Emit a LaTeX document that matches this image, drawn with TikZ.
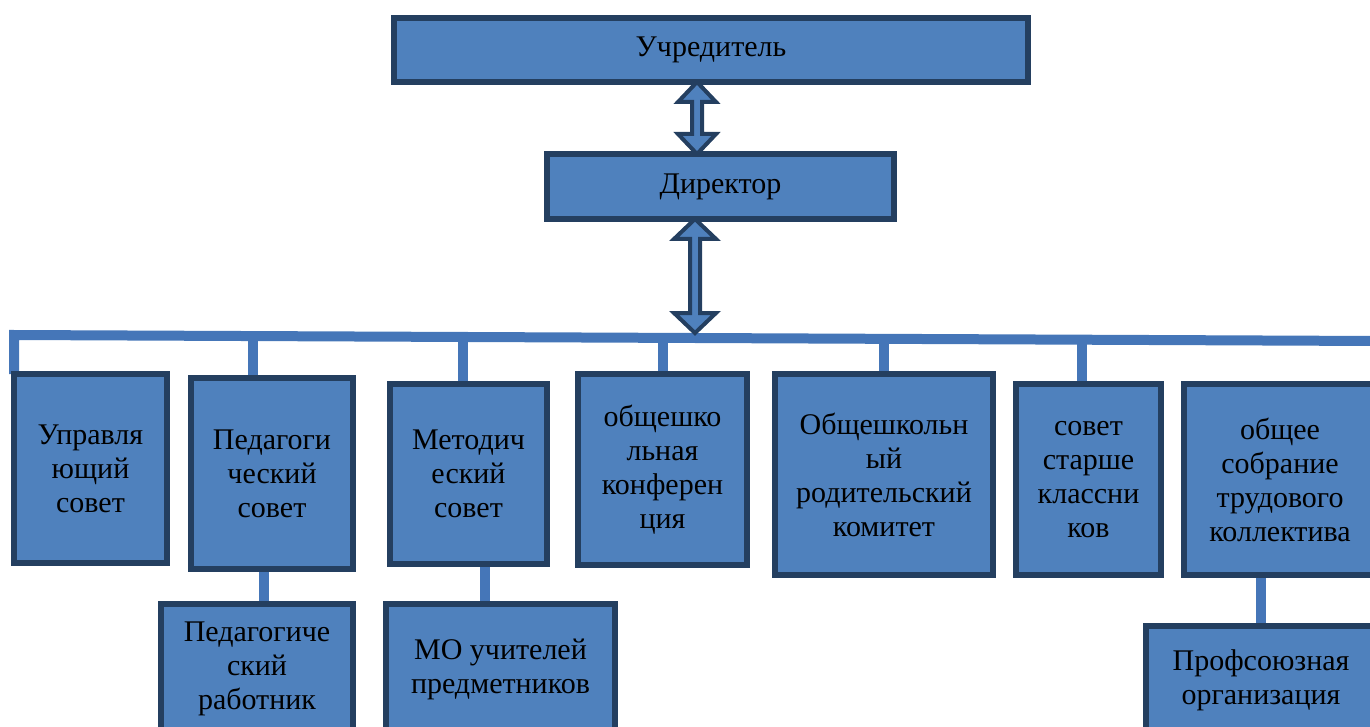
\documentclass[tikz,border=0pt]{standalone}
\usepackage{fontspec}
\setmainfont{Liberation Serif}
\usetikzlibrary{calc}
\pgfdeclarelayer{background}
\pgfsetlayers{background,main}
\definecolor{boxfill}{HTML}{4F81BD}
\definecolor{boxline}{HTML}{243F60}
\definecolor{busblue}{HTML}{4576B8}
\tikzset{
  unit/.style={draw=boxline, fill=boxfill, line width=3pt, align=center,
    inner sep=0pt, outer sep=0pt, font=\fontsize{15}{17}\selectfont},
  busline/.style={draw=busblue, line width=5pt},
  arrowshape/.style={draw=boxline, fill=boxfill, line width=2pt, line join=miter}
}
% #1 upper tip, #2 lower tip, #3 half width of the heads
\newcommand{\blockarrow}[3]{%
  \draw[arrowshape] let \p1=(#1), \p2=(#2) in
    (\x1,\y1) -- (\x1+#3,\y1-10pt) -- (\x1+2.5pt,\y1-10pt) -- (\x1+2.5pt,\y2+10pt)
    -- (\x1+#3,\y2+10pt) -- (\x1,\y2) -- (\x1-#3,\y2+10pt) -- (\x1-2.5pt,\y2+10pt)
    -- (\x1-2.5pt,\y1-10pt) -- (\x1-#3,\y1-10pt) -- cycle;}

\begin{document}
\begin{tikzpicture}[x=0.5pt,y=0.5pt]
\useasboundingbox (0,0) rectangle (1370,-727);

\node[unit, minimum width=317pt, minimum height=32pt] (founder) at (711,-50) {Учредитель};
\node[unit, minimum width=173.5pt, minimum height=32.5pt] (director) at (720.5,-186.5) {Директор};

\node[unit, minimum width=76.5pt, minimum height=94.5pt] (board) at (90.5,-468.5) {Управля\\ющий\\совет};
\node[unit, minimum width=81pt, minimum height=95.5pt] (pedcouncil) at (272,-473.5) {Педагоги\\ческий\\совет};
\node[unit, minimum width=78.5pt, minimum height=90pt] (metcouncil) at (468.5,-474) {Методич\\еский\\совет};
\node[unit, minimum width=84.5pt, minimum height=95.5pt] (conference) at (662.5,-469.5) {общешко\\льная\\конферен\\ция};
\node[unit, minimum width=109pt, minimum height=100.5pt] (parents) at (884,-474.5) {Общешкольн\\ый\\родительский\\комитет};
\node[unit, minimum width=72.5pt, minimum height=95.5pt] (seniors) at (1088.5,-479.5) {совет\\старше\\классни\\ков};
\node[unit, minimum width=96pt, minimum height=95.5pt] (staff) at (1280,-479.5) {общее\\собрание\\трудового\\коллектива};

\node[unit, minimum width=96pt, minimum height=65pt] (teachers) at (257,-669) {Педагогиче\\ский\\работник};
\node[unit, minimum width=114.5pt, minimum height=65.5pt] (subjects) at (500.5,-669.5) {МО учителей\\предметников};
\node[unit, minimum width=115pt, minimum height=54pt] (union) at (1261,-680) {Профсоюзная\\организация};

\coordinate (busL) at (14,-335);
\coordinate (busR) at (1376,-341);
\coordinate (busmid) at (695,-333);

\begin{pgfonlayer}{background}
\draw[busline] (board.north west) -- (busL) -- (busR);
\draw[busline] ([xshift=-9.5pt]pedcouncil.north) -- ([xshift=-9.5pt]pedcouncil.north |- busL);
\draw[busline] ([xshift=-2.75pt]metcouncil.north) -- ([xshift=-2.75pt]metcouncil.north |- busL);
\draw[busline] (conference.north) -- (conference.north |- busL);
\draw[busline] (parents.north) -- (parents.north |- busL);
\draw[busline] ([xshift=-3.25pt]seniors.north) -- ([xshift=-3.25pt]seniors.north |- busR);
\draw[busline] ([xshift=-4pt]pedcouncil.south) -- ([xshift=-4pt]pedcouncil.south |- teachers.north);
\draw[busline] ([xshift=8.25pt]metcouncil.south) -- ([xshift=8.25pt]metcouncil.south |- subjects.north);
\draw[busline] (union.north) -- (union.north |- staff.south);
\end{pgfonlayer}

\blockarrow{[xshift=-7pt]founder.south}{[xshift=-11.75pt]director.north}{9.5pt}
\blockarrow{[xshift=-12.75pt]director.south}{busmid}{10.5pt}
\end{tikzpicture}
\end{document}
